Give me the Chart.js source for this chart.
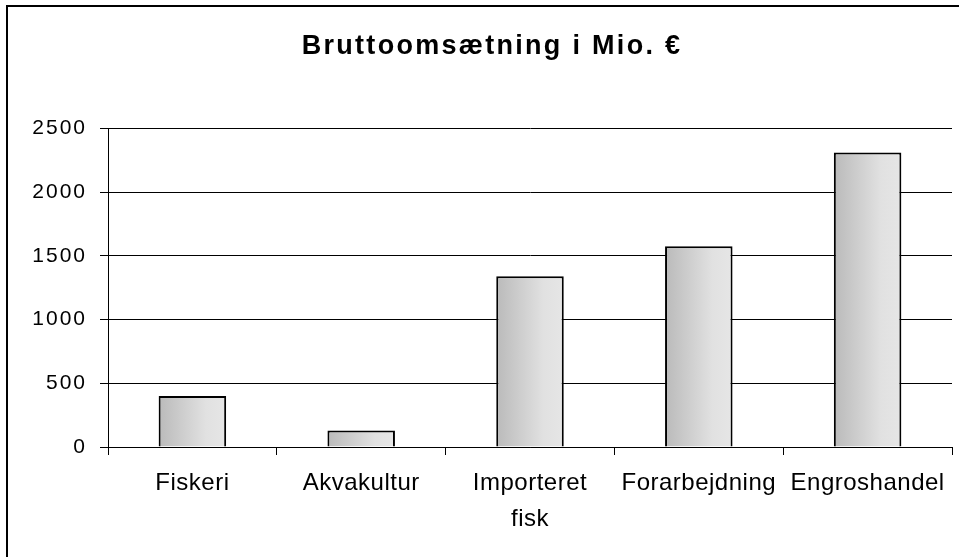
<!DOCTYPE html>
<html lang="da">
<head>
    <meta charset="UTF-8">
    <title>Bruttoomsætning i Mio. €</title>
    <script src="https://cdn.jsdelivr.net/npm/chart.js"></script>
    <style>
        body { margin: 0; background: #fff; }
        canvas { display: block; background-color: white; }
    </style>
</head>
<body>
    <canvas id="myChart" width="959" height="557"></canvas>
    <script>
        const chartTitle = 'Bruttoomsætning i Mio. €';
        const categories = ['Fiskeri', 'Akvakultur', ['Importeret', 'fisk'], 'Forarbejdning', 'Engroshandel'];
        const values = [400, 130, 1340, 1575, 2310];
        const yTicks = [0, 500, 1000, 1500, 2000, 2500];

        const FONT = "'Liberation Sans', Arial, sans-serif";

        // gradient for each bar, dark on the left, light on the right
        function barFill(context) {
            const chart = context.chart;
            const xScale = chart.scales.x;
            if (!chart.chartArea || !xScale) return '#d0d0d0';
            const center = xScale.getPixelForValue(context.dataIndex);
            const half = (xScale.width / categories.length) * 0.4 / 2;
            const g = chart.ctx.createLinearGradient(center - half, 0, center + half, 0);
            g.addColorStop(0, '#bababa');
            g.addColorStop(0.7, '#e1e1e1');
            g.addColorStop(1, '#e6e6e6');
            return g;
        }

        // letter spacing per part, the original text is rather wide
        const spacingPlugin = {
            id: 'spacing',
            afterLayout(chart) {
                // title sits a bit right of the canvas centre
                if (chart.titleBlock) chart.titleBlock.left += 32;
            },
            beforeDraw(chart) {
                chart.ctx.letterSpacing = '2.3px';
                Object.values(chart.scales).forEach(s => {
                    if (s._spaced) return;
                    const orig = s.drawLabels.bind(s);
                    const ls = s.axis === 'y' ? '2px' : '0.5px';
                    s.drawLabels = function (area) {
                        const ctx = this.ctx;
                        const prev = ctx.letterSpacing;
                        ctx.letterSpacing = ls;
                        orig(area);
                        ctx.letterSpacing = prev;
                    };
                    s._spaced = true;
                });
            }
        };

        // outer frame (only top and left edge are inside the picture)
        const framePlugin = {
            id: 'frame',
            afterDraw(chart) {
                const ctx = chart.ctx;
                ctx.save();
                ctx.strokeStyle = '#000';
                ctx.lineWidth = 2;
                ctx.beginPath();
                ctx.moveTo(7, chart.height + 2);
                ctx.lineTo(7, 6);
                ctx.lineTo(chart.width + 2, 6);
                ctx.stroke();
                ctx.restore();
            }
        };

        const ctx = document.getElementById('myChart').getContext('2d');
        const myChart = new Chart(ctx, {
            type: 'bar',
            data: {
                labels: categories,
                datasets: [{
                    data: values,
                    backgroundColor: barFill,
                    borderColor: '#000',
                    borderWidth: 2,
                    barPercentage: 0.4,
                    categoryPercentage: 1
                }]
            },
            options: {
                responsive: false,
                animation: false,
                layout: { padding: { left: 0, right: 7, top: 0, bottom: 0 } },
                plugins: {
                    legend: { display: false },
                    tooltip: { enabled: false },
                    title: {
                        display: true,
                        text: chartTitle,
                        color: '#000',
                        font: { family: FONT, size: 27, weight: 'bold', lineHeight: 1.2 },
                        padding: { top: 30, bottom: 66 }
                    }
                },
                scales: {
                    x: {
                        grid: {
                            offset: true,
                            drawOnChartArea: false,
                            color: '#000',
                            tickLength: 8,
                            tickColor: '#000'
                        },
                        border: { color: '#000', width: 1 },
                        ticks: {
                            color: '#000',
                            autoSkip: false,
                            maxRotation: 0,
                            padding: 10,
                            font: { family: FONT, size: 24, lineHeight: 1.5 }
                        },
                        afterFit(scale) { scale.height = 110; }
                    },
                    y: {
                        min: 0,
                        max: 2500,
                        afterBuildTicks(scale) {
                            scale.ticks = yTicks.map(v => ({ value: v }));
                        },
                        grid: {
                            color: '#000',
                            lineWidth: 1,
                            tickLength: 8,
                            tickColor: '#000'
                        },
                        border: { color: '#000', width: 1 },
                        ticks: {
                            color: '#000',
                            padding: 13,
                            font: { family: FONT, size: 21 },
                            callback: (v) => String(v)
                        },
                        afterFit(scale) { scale.width = 108; }
                    }
                }
            },
            plugins: [spacingPlugin, framePlugin]
        });
    </script>
</body>
</html>
